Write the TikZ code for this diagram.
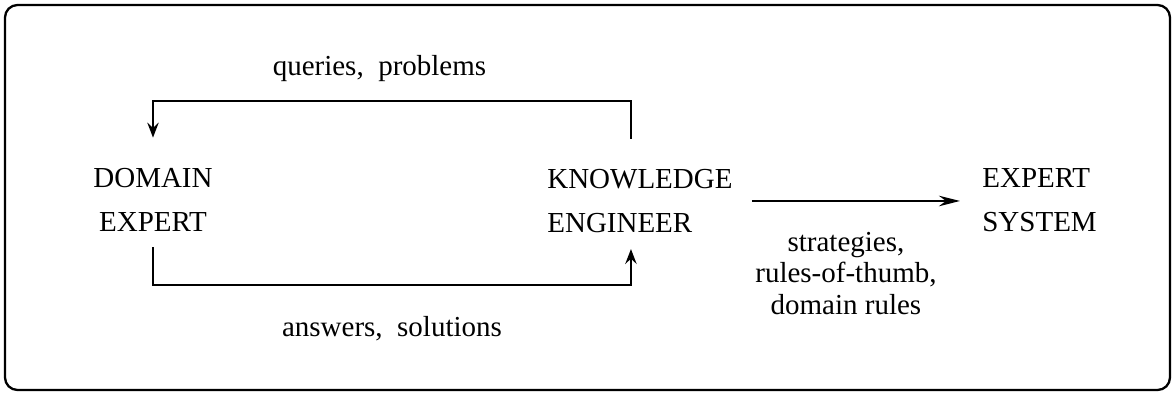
\documentclass[tikz,border=0pt]{standalone}
\usepackage{fontspec}
\setmainfont{Liberation Serif}
\usetikzlibrary{arrows.meta}

\begin{document}
\begin{tikzpicture}[font=\fontsize{16.5}{25}\selectfont,
    every node/.style={inner sep=0pt},
    flow/.style={line width=1.1pt,-{Stealth[length=8.5pt,width=6.5pt,inset=3pt]}}]
    \useasboundingbox (0,0) rectangle (23.46,7.86);
    \draw[line width=1.3pt,rounded corners=0.25cm] (0.1,0.06) rectangle (23.4,7.76);

    \node[align=center] (A) at (3.06,3.87) {DOMAIN\\ EXPERT};
    \node[align=left,anchor=west] (B) at (10.94,3.84) {KNOWLEDGE\\ ENGINEER};
    \node[align=left,anchor=west] (C) at (19.64,3.86) {EXPERT\\ SYSTEM};

    \draw[flow] ([xshift=-0.18cm,yshift=0.6cm]B.north) -- ++(0,0.76) -| node[pos=0.25,above=0.36cm,xshift=-0.25cm] {queries,\ \ problems} ([yshift=0.6cm]A.north);
    \draw[flow] ([yshift=-0.32cm]A.south) -- ++(0,-0.76) -| node[pos=0.25,below=0.6cm] {answers,\ \ solutions} ([xshift=-0.18cm,yshift=-0.32cm]B.south);
    \draw[flow,-{Stealth[length=12pt,width=6pt,inset=4pt]}] ([xshift=0.38cm]B.east) -- node[below=0.6cm,xshift=-0.2cm,align=center,font=\fontsize{16.5}{17.9}\selectfont] {strategies,\\ rules-of-thumb,\\ domain rules} ([xshift=-0.44cm]B.east -| C.west);
\end{tikzpicture}
\end{document}
